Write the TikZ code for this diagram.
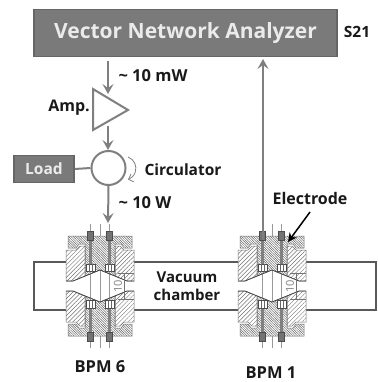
\documentclass[tikz,border=0pt]{standalone}
\usepackage{fontspec}
\setmainfont{Open Sans}
\usetikzlibrary{arrows.meta,patterns.meta}
\definecolor{boxg}{HTML}{7A7A7A}
\definecolor{edgeg}{HTML}{666666}
\definecolor{lineg}{HTML}{7F7F7F}
\newcommand{\fsz}[1]{\bfseries\fontsize{#1}{#1}\selectfont}
\tikzset{
  boxnode/.style={draw=edgeg,fill=boxg,line width=1.5pt,text=white!92!black,inner sep=0pt,anchor=center},
  lab/.style={text=black!90,inner sep=0pt,anchor=center},
  conn/.style={draw=lineg,line width=2pt},
  arr/.style={conn,-{Stealth[length=10pt,width=11pt,inset=4pt]}},
  hatchA/.style={pattern={Lines[angle=45,distance=3pt,line width=.45pt]},pattern color=black!55},
  hatchB/.style={pattern={Lines[angle=-45,distance=1.7pt,line width=.5pt]},pattern color=black!60},
  outl/.style={draw=black!55,line width=.5pt},
  cl/.style={draw=black!40,line width=.4pt},
  chamber/.style={draw=black!65,line width=1.6pt},
  pics/bpm/.style={code={
    \foreach \xx in {-10,0,9}{\draw[cl] (\xx,-62)--(\xx,62);}
    \foreach \s in {1,-1}{
      \begin{scope}[yscale=\s]
        % white backing
        \fill[white] (-34,-50)--(34,-50)--(34,-5)--(27,-5)--(0,-16)--(-27,-5)--(-34,-5)--cycle;
        % outer bodies
        \path[outl,hatchA] (-34,-36)--(-24,-36)--(-20,-40)--(-15,-40)--(-15,-10)--(-27,-5)--(-34,-5)--cycle;
        \path[outl,hatchA] (34,-36)--(24,-36)--(20,-40)--(15,-40)--(15,-10)--(27,-5)--(34,-5)--cycle;
        % flange and central column
        \path[outl,hatchB] (-32,-50)--(32,-50)--(32,-38)--(24,-38)--(21,-42)--(15,-42)--(15,-10)--(0,-16)--(-15,-10)--(-15,-42)--(-21,-42)--(-24,-38)--(-32,-38)--cycle;
        % bolts
        \foreach \bx in {-9.5,9.5}{
          \fill[black!50] (\bx-1.8,-50)rectangle(\bx+1.8,-20);
          \path[draw=black!70,fill=black!55,line width=.4pt] (\bx-3,-55)rectangle(\bx+3,-46);
          \path[draw=black!70,fill=white,line width=.5pt] (\bx-4.5,-22)rectangle(\bx+4.5,-14.5);
          \draw[black!60,line width=.4pt] (\bx-1.5,-22)--(\bx-1.5,-14.5) (\bx+1.5,-22)--(\bx+1.5,-14.5);
        }
        % cavity outline
        \draw[black!75,line width=.7pt] (-34,-5)--(-27,-5)--(0,-16)--(27,-5)--(34,-5);
      \end{scope}
    }
    % dimension
    \draw[black!55,line width=.4pt] (24,-13)--(24,13) (18,-13)--(34,-13) (18,13)--(34,13);
    \node[font=\fontsize{11}{11}\selectfont,text=black!50,rotate=90,inner sep=0pt] at (18,0) {10};
  }}
}
\begin{document}
\begin{tikzpicture}[x=1pt,y=-1pt]
\useasboundingbox (0,0) rectangle (377,382);
% chamber
\draw[chamber] (66,262)--(34,262)--(34,310)--(66,310);
\draw[chamber] (134,262)--(238,262) (134,310)--(238,310);
\draw[chamber] (306,262)--(376,262)--(376,310)--(306,310);
% BPMs
\pic at (100,286) {bpm};
\pic at (272,286) {bpm};
% VNA
\node[boxnode,minimum width=303pt,minimum height=47pt,font=\fsz{21}] (vna) at (185.5,33) {Vector Network Analyzer};
\node[lab,font=\fsz{15.5}] (s21) at (357,32) {S21};
% amp
\coordinate (amptop) at (108,94);
\coordinate (ampbot) at (108,126);
\path[draw=lineg,fill=white,line width=2pt] (93,89)--(128,110)--(93,130)--cycle;
\node[lab,font=\fsz{16}] (amplab) at (69,108) {Amp.};
\node[lab,font=\fsz{16.5}] (mw) at (153,76) {\string~ 10 mW};
% circulator
\node[draw=lineg,fill=white,line width=2pt,circle,minimum size=34pt,inner sep=0pt] (circ) at (108.5,168) {};
\node[boxnode,minimum width=60pt,minimum height=27pt,font=\fsz{15.5}] (load) at (44,169) {Load};
\node[lab,font=\fsz{15.5}] (circlab) at (183,170) {Circulator};
\node[lab,font=\fsz{16.5}] (tenw) at (145,203) {\string~ 10 W};
\draw[draw=lineg,line width=.8pt,-{Straight Barb[length=4pt]}] (128,157) arc (-70:70:12);
% connectors
\coordinate (vnabot) at (108,61);
\coordinate (bpmsix) at (108,223);
\coordinate (bpmone) at (263,240);
\coordinate (vnain) at (263,59);
\draw[arr] (vnabot)--(amptop);
\draw[arr] (ampbot)--(circ.north -| ampbot);
\draw[conn] (load.east)--(circ.west);
\draw[arr] (circ.south)--(bpmsix);
\draw[arr] (bpmone)--(vnain);
% electrode
\node[lab,font=\fsz{16}] (elab) at (310,198) {Electrode};
\coordinate (etip) at (288,242);
\draw[black,line width=1.5pt,-{Stealth[length=9pt,width=9pt,inset=3pt]}] (310,212)--(etip);
% labels
\node[lab,align=center,font=\fsz{15},text width=80pt] (vc) at (187,286) {Vacuum\\[3pt]chamber};
\node[lab,font=\fsz{16.5}] (b6) at (100,367) {BPM 6};
\node[lab,font=\fsz{16.5}] (b1) at (271,372.5) {BPM 1};
\end{tikzpicture}
\end{document}
